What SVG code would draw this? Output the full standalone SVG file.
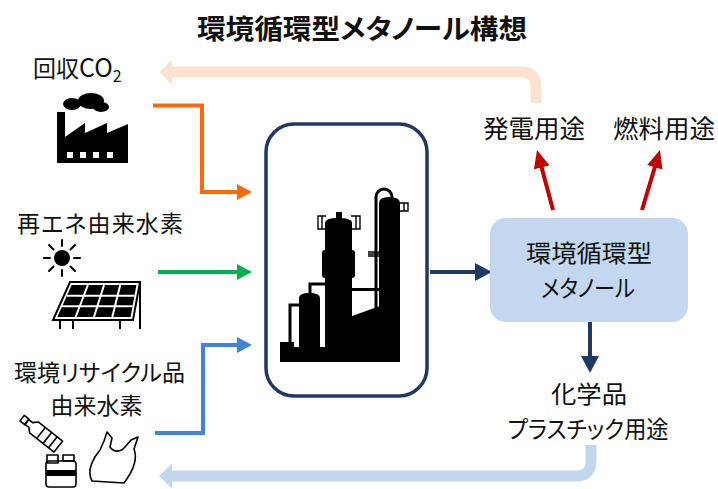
<svg xmlns="http://www.w3.org/2000/svg" width="718" height="489" viewBox="0 0 718 489">
  <style>
    text { font-family: "Noto Sans CJK JP", "Noto Sans", sans-serif; fill: #111; font-feature-settings: "palt"; }
    .title { font-size: 27.5px; font-weight: 700; }
    .lbl { font-size: 23px; }
    .out { font-size: 25.5px; }
    .out2 { font-size: 24px; }
    .mid { text-anchor: middle; }
    .wire { fill: none; stroke-linejoin: miter; }
    .ink { fill: #000; }
    .thin { fill: none; stroke: #000; stroke-width: 1.6; stroke-linejoin: round; }
  </style>
  <defs>
    <marker id="hPeach" markerUnits="userSpaceOnUse" viewBox="0 0 13 25" markerWidth="13" markerHeight="25" refX="1" refY="12.5" orient="auto"><path d="M0,0 L13,12.5 L0,25 z" fill="#FBE2D0"/></marker>
    <marker id="hSky" markerUnits="userSpaceOnUse" viewBox="0 0 13 25" markerWidth="13" markerHeight="25" refX="1" refY="12.5" orient="auto"><path d="M0,0 L13,12.5 L0,25 z" fill="#C2D6EE"/></marker>
    <marker id="hOrange" markerUnits="userSpaceOnUse" viewBox="0 0 15 16" markerWidth="15" markerHeight="16" refX="1" refY="8" orient="auto"><path d="M0,0 L15,8 L0,16 z" fill="#FA6A0A"/></marker>
    <marker id="hGreen" markerUnits="userSpaceOnUse" viewBox="0 0 15 16" markerWidth="15" markerHeight="16" refX="1" refY="8" orient="auto"><path d="M0,0 L15,8 L0,16 z" fill="#00B050"/></marker>
    <marker id="hBlue" markerUnits="userSpaceOnUse" viewBox="0 0 15 16" markerWidth="15" markerHeight="16" refX="1" refY="8" orient="auto"><path d="M0,0 L15,8 L0,16 z" fill="#4283D6"/></marker>
    <marker id="hNavy" markerUnits="userSpaceOnUse" viewBox="0 0 17 18" markerWidth="17" markerHeight="18" refX="1" refY="9" orient="auto"><path d="M0,0 L17,9 L0,18 z" fill="#1F3864"/></marker>
    <marker id="hRed" markerUnits="userSpaceOnUse" viewBox="0 0 18 16" markerWidth="18" markerHeight="16" refX="1" refY="8" orient="auto"><path d="M0,0 L18,8 L0,16 z" fill="#C00000"/></marker>
  </defs>

  <rect width="718" height="489" fill="#fff"/>

  <text class="title mid" x="362" y="39" textLength="330" lengthAdjust="spacingAndGlyphs">環境循環型メタノール構想</text>

  <!-- connectors -->
  <g id="connectors">
    <path class="wire" d="M536,103 V87 Q536,72 521,72 H171" stroke="#FBE2D0" stroke-width="11" marker-end="url(#hPeach)"/>
    <path class="wire" d="M591,445 V461 Q591,476 576,476 H171" stroke="#C2D6EE" stroke-width="11" marker-end="url(#hSky)"/>
    <path class="wire" d="M153,105.5 H202 V192 H238" stroke="#FA6A0A" stroke-width="4" marker-end="url(#hOrange)"/>
    <path class="wire" d="M158,272 H238" stroke="#00B050" stroke-width="4" marker-end="url(#hGreen)"/>
    <path class="wire" d="M155,433 H203 V345 H238" stroke="#4283D6" stroke-width="4" marker-end="url(#hBlue)"/>
    <path class="wire" d="M430,272 H476" stroke="#1F3864" stroke-width="4" marker-end="url(#hNavy)"/>
    <path class="wire" d="M590,322 V357" stroke="#1F3864" stroke-width="4" marker-end="url(#hNavy)"/>
    <path class="wire" d="M553,210 L541.4,166.4" stroke="#C00000" stroke-width="4" marker-end="url(#hRed)"/>
    <path class="wire" d="M642,210 L655.1,166.3" stroke="#C00000" stroke-width="4" marker-end="url(#hRed)"/>
  </g>

  <!-- recovered CO2 source -->
  <g id="co2">
    <text class="lbl" x="33" y="77">回収<tspan font-size="25">CO</tspan><tspan font-size="16" dy="5">2</tspan></text>
    <g class="ink">
      <ellipse cx="72" cy="104" rx="9" ry="6"/>
      <ellipse cx="91" cy="101" rx="13" ry="8"/>
      <ellipse cx="101" cy="107" rx="8" ry="5"/>
      <path d="M57,112 H65 V137 L85,123 V133 L107,123 V133 L128,124 V163 H57 Z"/>
    </g>
    <g fill="#fff">
      <rect x="67" y="152" width="6" height="6"/>
      <rect x="80" y="152" width="6" height="6"/>
      <rect x="93" y="152" width="6" height="6"/>
      <rect x="107" y="152" width="6" height="6"/>
    </g>
  </g>

  <!-- renewable hydrogen source -->
  <g id="renewable">
    <text class="lbl" x="17" y="232" textLength="166" lengthAdjust="spacing">再エネ由来水素</text>
    <circle cx="62" cy="258" r="8" fill="#000"/>
    <g stroke="#000" stroke-width="2" stroke-linecap="round">
      <line x1="62" y1="246" x2="62" y2="240"/>
      <line x1="62" y1="270" x2="62" y2="276"/>
      <line x1="50" y1="258" x2="44" y2="258"/>
      <line x1="74" y1="258" x2="80" y2="258"/>
      <line x1="53.5" y1="249.5" x2="49" y2="245"/>
      <line x1="70.5" y1="249.5" x2="75" y2="245"/>
      <line x1="53.5" y1="266.5" x2="49" y2="271"/>
      <line x1="70.5" y1="266.5" x2="75" y2="271"/>
    </g>
    <polygon points="70,282 140,282 133,320 53,320" fill="#fff" stroke="#000" stroke-width="2"/>
    <polygon points="71.7,285 136.4,285 130.6,317 57.3,317" fill="#000"/>
    <g stroke="#fff" stroke-width="2">
      <line x1="66.8" y1="295.7" x2="134.5" y2="295.7"/>
      <line x1="62.1" y1="306.3" x2="132.6" y2="306.3"/>
      <line x1="87.9" y1="285" x2="75.6" y2="317"/>
      <line x1="104.05" y1="285" x2="93.95" y2="317"/>
      <line x1="120.2" y1="285" x2="112.3" y2="317"/>
    </g>
    <g stroke="#000" stroke-width="2">
      <line x1="60" y1="320" x2="60" y2="329"/>
      <line x1="73" y1="320" x2="73" y2="329"/>
      <line x1="120" y1="320" x2="120" y2="329"/>
      <line x1="140" y1="282" x2="140" y2="329"/>
    </g>
  </g>

  <!-- recycled-waste hydrogen source -->
  <g id="recycle">
    <text class="lbl"><tspan x="14" y="381" textLength="171" lengthAdjust="spacing">環境リサイクル品</tspan><tspan class="mid" x="96.5" y="414">由来水素</tspan></text>
    <g transform="translate(41,433) rotate(38)">
      <rect class="thin" x="-24" y="-3.5" width="6" height="7" fill="#fff"/>
      <path class="thin" d="M-18,-3 H-13 L-9,-7 H22 V7 H-9 L-13,3 H-18 Z" fill="#fff"/>
      <g stroke="#000" stroke-width="1.6">
        <line x1="0" y1="-7" x2="0" y2="7"/>
        <line x1="8" y1="-7" x2="8" y2="7"/>
        <line x1="15" y1="-7" x2="15" y2="7"/>
      </g>
    </g>
    <rect class="thin" x="47" y="455" width="11" height="8" fill="#fff"/>
    <rect class="thin" x="63" y="455" width="11" height="6" fill="#fff"/>
    <rect class="thin" x="46" y="461" width="30" height="26" rx="3" fill="#fff"/>
    <rect x="46" y="470" width="30" height="6" fill="#000"/>
    <path class="thin" d="M92,481 C86,470 94,457 100,450 L104,441 L107,432 L112,438 L110,447 C114,453 121,452 125,447 L131,440 L138,437 L134,449 C138,459 133,471 124,483 Z"/>
  </g>

  <!-- synthesis plant -->
  <g id="plant">
    <rect x="266" y="124" width="161" height="272" rx="28" fill="#fff" stroke="#1F3864" stroke-width="3.5"/>
    <g class="ink">
      <rect x="280" y="347" width="120" height="15"/>
      <rect x="280" y="342" width="14" height="7"/>
      <path d="M299,351 V298 Q299,293 309,293 Q320,293 320,298 V351 Z"/>
      <path d="M325,351 V223 Q325,218 338,218 Q352,218 352,223 V351 Z"/>
      <rect x="322" y="250" width="33" height="28" rx="3"/>
      <rect x="336" y="212" width="6" height="8"/>
      <rect x="352" y="288" width="28" height="3"/>
      <polygon points="352,316 380,306 380,351 352,351"/>
      <path d="M379,351 V203 Q379,197 389,197 Q400,197 400,203 V351 Z"/>
      <rect x="368" y="251" width="11" height="6" fill="#444"/>
    </g>
    <g fill="none" stroke="#000" stroke-width="3">
      <path d="M376,313 V197 A8,8 0 0 1 392,197 V201"/>
      <path d="M310,294 V284 H326"/>
      <path d="M290,348 V305 H300"/>
    </g>
    <g fill="none" stroke="#000" stroke-width="1.4">
      <path d="M326,229 H318 V216 H326 M322,216 V229"/>
      <path d="M351,229 H360 V216 H351 M356,216 V229"/>
      <path d="M400,211 H408 V203 H400 M404,203 V211"/>
    </g>
  </g>

  <!-- methanol product -->
  <g id="methanol">
    <rect x="490" y="218" width="198" height="104" rx="16" fill="#C3D7EF"/>
    <text class="out2 mid"><tspan x="589" y="262" textLength="126" lengthAdjust="spacingAndGlyphs">環境循環型</tspan><tspan x="588" y="297" textLength="94" lengthAdjust="spacingAndGlyphs">メタノール</tspan></text>
  </g>

  <g id="power">
    <text class="out mid" x="534" y="138">発電用途</text>
  </g>
  <g id="fuel">
    <text class="out mid" x="664" y="138">燃料用途</text>
  </g>
  <g id="chemicals">
    <text class="out2 mid"><tspan x="589" y="403" textLength="76" lengthAdjust="spacingAndGlyphs">化学品</tspan><tspan x="588" y="438" textLength="161" lengthAdjust="spacingAndGlyphs">プラスチック用途</tspan></text>
  </g>
</svg>
